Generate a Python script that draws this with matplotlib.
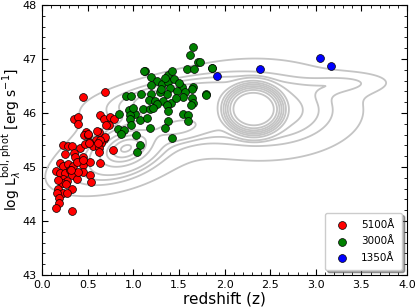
import numpy as np
import matplotlib
matplotlib.use("Agg")
import matplotlib.pyplot as plt
from matplotlib.ticker import MultipleLocator

# sources measured at 5100A, 3000A and 1350A: (redshift, log L)
red_z = [0.45, 0.69, 0.35, 0.39, 0.39, 0.64, 0.68, 0.75, 0.79, 0.73, 0.48, 0.46, 0.51, 0.62,
         0.59, 0.68, 0.65, 0.52, 0.56, 0.63, 0.42, 0.45, 0.23, 0.25, 0.29, 0.33, 0.35, 0.36,
         0.45, 0.53, 0.78, 0.20, 0.23, 0.29, 0.34, 0.38, 0.45, 0.15, 0.20, 0.25, 0.31, 0.33,
         0.45, 0.53, 0.23, 0.28, 0.38, 0.22, 0.26, 0.33, 0.18, 0.23, 0.27, 0.16, 0.19, 0.19,
         0.15, 0.33, 0.64, 0.62, 0.70, 0.60, 0.69, 0.50, 0.47, 0.64, 0.61, 0.52, 0.54, 0.40,
         0.32, 0.18]
red_L = [46.29, 46.39, 45.88, 45.92, 45.80, 45.96, 45.88, 45.93, 45.88, 45.78, 45.65, 45.59,
         45.59, 45.65, 45.50, 45.51, 45.44, 45.47, 45.38, 45.35, 45.36, 45.19, 45.41, 45.24,
         45.39, 45.38, 45.25, 45.18, 45.04, 45.10, 45.31, 45.07, 45.02, 45.06, 45.02, 45.10,
         44.91, 44.93, 44.89, 44.88, 44.94, 44.85, 45.13, 44.85, 44.77, 44.75, 44.77, 44.70,
         44.68, 44.60, 44.60, 44.52, 44.52, 44.51, 44.42, 44.34, 44.25, 44.19, 45.07, 45.28,
         45.78, 45.67, 45.55, 45.61, 45.43, 45.50, 45.44, 45.44, 44.73, 44.90, 44.94, 44.76]

green_z = [1.65, 1.62, 1.71, 1.86, 1.59, 1.67, 1.13, 1.38, 1.43, 1.20, 1.26, 1.32, 1.38, 1.20,
           1.40, 1.53, 1.66, 1.64, 1.80, 1.57, 1.48, 1.37, 1.20, 1.29, 1.09, 0.92, 0.98, 1.64,
           1.54, 1.17, 1.24, 1.33, 1.41, 1.66, 1.63, 1.26, 1.37, 0.95, 1.11, 1.18, 1.38, 1.02,
           0.84, 0.96, 1.55, 1.60, 0.96, 1.07, 1.38, 1.60, 0.98, 0.83, 0.90, 1.18, 1.35, 0.87,
           1.03, 1.42, 1.07, 1.04, 1.12, 1.73, 1.86, 1.80, 1.45, 1.50, 1.30, 1.22, 1.47, 1.35,
           1.15, 1.00]
green_L = [47.22, 47.07, 46.95, 46.83, 46.81, 46.81, 46.77, 46.70, 46.78, 46.66, 46.60, 46.53,
           46.58, 46.52, 46.46, 46.49, 46.49, 46.44, 46.35, 46.39, 46.41, 46.36, 46.35, 46.38,
           46.36, 46.32, 46.32, 46.27, 46.30, 46.24, 46.23, 46.22, 46.19, 46.19, 46.15, 46.17,
           46.15, 46.06, 46.07, 46.07, 46.04, 45.99, 45.98, 45.96, 45.99, 45.96, 45.88, 45.87,
           45.86, 45.86, 45.78, 45.70, 45.69, 45.73, 45.73, 45.61, 45.59, 45.53, 45.41, 45.28,
           46.77, 46.95, 46.83, 46.33, 46.62, 46.55, 46.45, 46.10, 46.28, 46.65, 45.90, 46.10]

blue_z = [1.92, 2.39, 3.05, 3.17]
blue_L = [46.69, 46.81, 47.02, 46.87]

# parent sample density, described as a sum of blobs
# (centre z, centre logL, width z, width logL, correlation, height, flatness)
blob_z = [2.32, 2.40, 0.92, 1.50, 1.10, 1.30, 0.75, 3.35]
blob_L = [46.07, 46.05, 45.35, 45.72, 45.60, 46.30, 44.95, 46.55]
blob_sz = [0.23, 0.60, 0.18, 0.20, 0.55, 0.50, 0.40, 0.30]
blob_sL = [0.33, 0.50, 0.20, 0.14, 0.50, 0.25, 0.30, 0.13]
blob_rho = [0.0, 0.0, 0.30, 0.30, 0.55, 0.50, 0.40, 0.10]
blob_h = [0.75, 0.20, 0.42, 0.15, 0.12, 0.12, 0.10, 0.07]
blob_p = [2.5, 1, 1, 1, 1, 1, 1, 1]
levels = [0.035, 0.085, 0.115, 0.15, 0.25, 0.35, 0.45, 0.55, 0.65, 0.75, 0.85]

zz, LL = np.meshgrid(np.linspace(0, 4, 400), np.linspace(43, 48, 400))
dens = np.zeros_like(zz)
for z0, L0, sz, sL, r, h, p in zip(blob_z, blob_L, blob_sz, blob_sL, blob_rho, blob_h, blob_p):
    u = (zz - z0) / sz
    v = (LL - L0) / sL
    q = (u**2 - 2*r*u*v + v**2) / (2*(1 - r**2))
    dens += h * np.exp(-q**p)

fig = plt.figure(figsize=(4.15, 3.08), dpi=100)
ax = fig.add_axes([0.101, 0.107, 0.88, 0.877])

ax.contour(zz, LL, dens, levels=levels, colors='#c4c4c4', linewidths=1.3)

ax.scatter(red_z, red_L, s=32, c='red', edgecolors='k', linewidths=0.5, label=u'5100\u00c5', zorder=3)
ax.scatter(green_z, green_L, s=32, c='green', edgecolors='k', linewidths=0.5, label=u'3000\u00c5', zorder=3)
ax.scatter(blue_z, blue_L, s=32, c='blue', edgecolors='k', linewidths=0.5, label=u'1350\u00c5', zorder=3)

ax.set_xlim(0, 4)
ax.set_ylim(43, 48)
ax.xaxis.set_major_locator(MultipleLocator(0.5))
ax.xaxis.set_minor_locator(MultipleLocator(0.1))
ax.yaxis.set_major_locator(MultipleLocator(1))
ax.yaxis.set_minor_locator(MultipleLocator(0.2))
ax.tick_params(which='both', direction='in', top=True, right=True, labelsize=8)
ax.tick_params(which='major', length=4)
ax.tick_params(which='minor', length=2)

ax.set_xlabel('redshift (z)', fontsize=11, labelpad=1)
ax.set_ylabel(r'log L$_{\lambda}^{\mathrm{bol,\,phot}}$ [erg s$^{-1}$]', fontsize=10)
ax.yaxis.set_label_coords(-0.053, 0.5)

ax.legend(loc='lower right', scatterpoints=1, fontsize=7.5, fancybox=True, shadow=True,
          framealpha=1, handletextpad=0.8, borderpad=0.7, labelspacing=0.6)

fig.savefig('out.png', dpi=100)
